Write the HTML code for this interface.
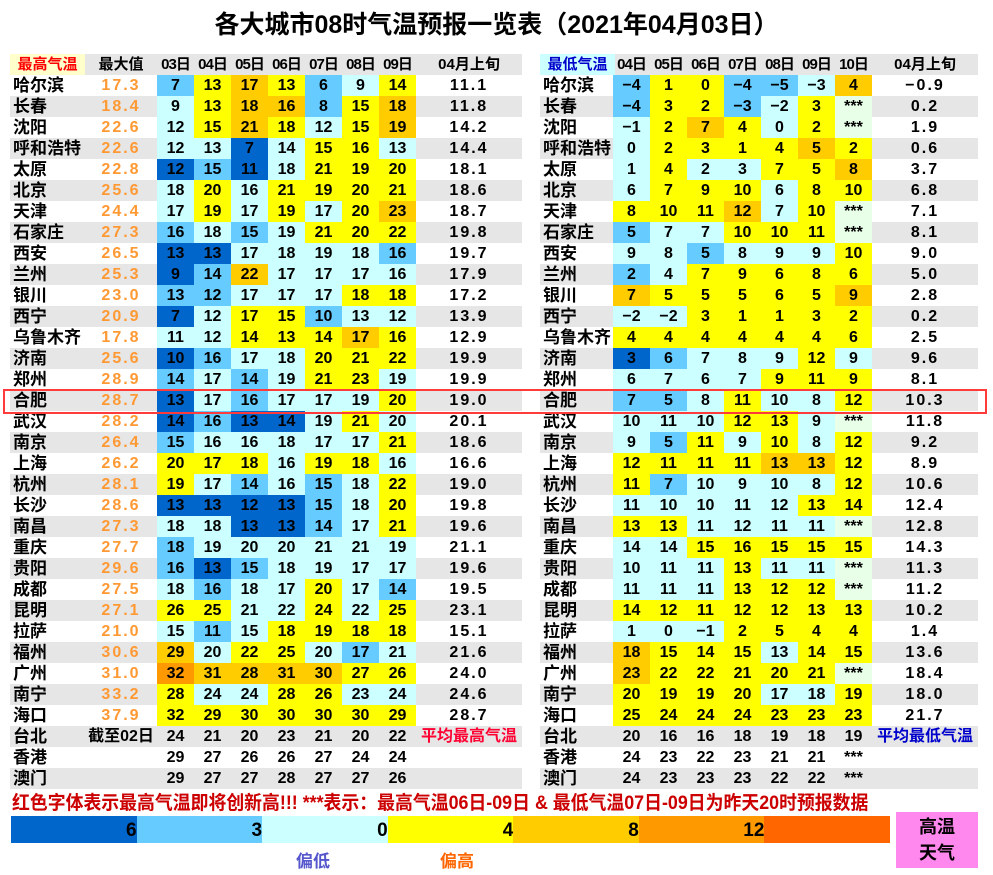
<!DOCTYPE html>
<html><head><meta charset="utf-8">
<style>
body{margin:0;background:#fff;width:993px;height:875px;position:relative;overflow:hidden;font-family:"Liberation Sans","Noto Sans CJK SC",sans-serif;}
.c{position:absolute;height:21px;line-height:21px;text-align:center;font-size:16px;font-weight:bold;color:#000;white-space:nowrap;}
.nm{text-align:left;padding-left:3px;box-sizing:border-box;font-size:17px;}
.mx{color:#ff9933;letter-spacing:2px;}
.av{letter-spacing:2px;}
.hd{font-size:15px;}
#title{position:absolute;left:0;width:993px;top:5px;text-align:center;font-size:25px;font-weight:bold;}
</style></head><body>
<div id="title">各大城市08时气温预报一览表（2021年04月03日）</div>
<div id="tbl"></div>
<div style="position:absolute;left:3px;top:389px;width:980px;height:21px;border:2px solid #ff3b3b;"></div>
<div style="position:absolute;left:12px;top:788px;font-size:19px;color:#cc0000;font-weight:bold;transform:scaleX(0.94);transform-origin:left;white-space:nowrap;">红色字体表示最高气温即将创新高!!! ***表示：最高气温06日-09日 &amp; 最低气温07日-09日为昨天20时预报数据</div>
<div id="legend"></div>
<div style="position:absolute;left:296px;top:847px;font-size:17px;font-weight:bold;color:#5555cc;">偏低</div>
<div style="position:absolute;left:440px;top:847px;font-size:17px;font-weight:bold;color:#ff6600;">偏高</div>
<div style="position:absolute;left:896px;top:812px;width:82px;height:56px;background:#ff88ee;font-size:18px;font-weight:bold;text-align:center;line-height:26px;padding-top:2px;box-sizing:border-box;">高温<br>天气</div>
<script>
const cities=["哈尔滨","长春","沈阳","呼和浩特","太原","北京","天津","石家庄","西安","兰州","银川","西宁","乌鲁木齐","济南","郑州","合肥","武汉","南京","上海","杭州","长沙","南昌","重庆","贵阳","成都","昆明","拉萨","福州","广州","南宁","海口","台北","香港","澳门"];
const maxRecord=["17.3","18.4","22.6","22.6","22.8","25.6","24.4","27.3","26.5","25.3","23.0","20.9","17.8","25.6","28.9","28.7","28.2","26.4","26.2","28.1","28.6","27.3","27.7","29.6","27.5","27.1","21.0","30.6","31.0","33.2","37.9","截至02日","",""];
const highDays=["03日","04日","05日","06日","07日","08日","09日"];
const lowDays=["04日","05日","06日","07日","08日","09日","10日"];
const highVals=[
"7 13 17 13 6 9 14","9 13 18 16 8 15 18","12 15 21 18 12 15 19","12 13 7 14 15 16 13","12 15 11 18 21 19 20","18 20 16 21 19 20 21","17 19 17 19 17 20 23","16 18 15 19 21 20 22","13 13 17 18 19 18 16","9 14 22 17 17 17 16","13 12 17 17 17 18 18","7 12 17 15 10 13 12","11 12 14 13 14 17 16","10 16 17 18 20 21 22","14 17 14 19 21 23 19","13 17 16 17 17 19 20","14 16 13 14 19 21 20","15 16 16 18 17 17 21","20 17 18 16 19 18 16","19 17 14 16 15 18 22","13 13 12 13 15 18 20","18 18 13 13 14 17 21","18 19 20 20 21 21 19","16 13 15 18 19 17 17","18 16 18 17 20 17 14","26 25 21 22 24 22 25","15 11 15 18 19 18 18","29 20 22 25 20 17 21","32 31 28 31 30 27 26","28 24 24 28 26 23 24","32 29 30 30 30 30 29","24 21 20 23 21 20 22","29 27 26 26 27 24 24","29 27 27 28 27 27 26"];
const highLevels=["LYGYLCY","CYGGLYG","CYGYCYG","CCDCYYC","DLDCYYY","CYCYYYY","CYCYCYG","LCLCYYY","DDCCCCL","DLGCCCC","LLCCCYY","DCYYLCC","CCYYYGY","DLCCYYY","LCLCYYC","DCLCCCY","DLDDCYC","LCCCCCY","YYYCYYC","YCLCLCY","DDDDLCY","CCDDLCY","LCCCCCC","LDLCCCC","CLCCYCL","YYCCYCY","CLCYYYY","GCYYCLC","OGGGGYY","YCCYYCC","YYYYYYY","NNNNNNN","NNNNNNN","NNNNNNN"];
const highAvg=["11.1","11.8","14.2","14.4","18.1","18.6","18.7","19.8","19.7","17.9","17.2","13.9","12.9","19.9","19.9","19.0","20.1","18.6","16.6","19.0","19.8","19.6","21.1","19.6","19.5","23.1","15.1","21.6","24.0","24.6","28.7","平均最高气温","",""];
const lowVals=[
"−4 1 0 −4 −5 −3 4","−4 3 2 −3 −2 3 ***","−1 2 7 4 0 2 ***","0 2 3 1 4 5 2","1 4 2 3 7 5 8","6 7 9 10 6 8 10","8 10 11 12 7 10 ***","5 7 7 10 10 11 ***","9 8 5 8 9 9 10","2 4 7 9 6 8 6","7 5 5 5 6 5 9","−2 −2 3 1 1 3 2","4 4 4 4 4 4 6","3 6 7 8 9 12 9","6 7 6 7 9 11 9","7 5 8 11 10 8 12","10 11 10 12 13 9 ***","9 5 11 9 10 8 12","12 11 11 11 13 13 12","11 7 10 9 10 8 12","11 10 10 11 12 13 14","13 13 11 12 11 11 ***","14 14 15 16 15 15 15","10 11 11 13 11 11 ***","11 11 11 13 12 12 ***","14 12 11 12 12 13 13","1 0 −1 2 5 4 4","18 15 14 15 13 14 15","23 22 22 21 20 21 ***","20 19 19 20 17 18 19","25 24 24 24 23 23 23","20 16 16 18 19 18 19","24 23 22 23 21 21 ***","24 23 23 23 22 22 ***"];
const lowLevels=["LYYLLCG","LYYLCYS","CYGYCYS","CYYYYGY","CYCCYYG","CYYYCYY","YYYGCYS","LCCYYYS","CCLCCCY","LCYYYYY","GYYYYYG","CCYYYYY","YYYYYYY","DLCCCYC","CCCCYYY","LLCYCCY","CCCYYCS","CLYCYCY","YYYYGGY","YLCCCCY","CCCCCYY","YYCCCCS","CCYYYYY","CCCYCCS","CCCYYYS","YYYYYYY","CCCYYYY","GYYYCYY","GYYYYYS","YYYYCCY","YYYYYYY","NNNNNNN","NNNNNNN","NNNNNNN"];
const lowAvg=["−0.9","0.2","1.9","0.6","3.7","6.8","7.1","8.1","9.0","5.0","2.8","0.2","2.5","9.6","8.1","10.3","11.8","9.2","8.9","10.6","12.4","12.8","14.3","11.3","11.2","10.2","1.4","13.6","18.4","18.0","21.7","平均最低气温","",""];
const legendTicks=["6","3","0","4","8","12",""];
const legendColors=["#0066cc","#66ccff","#ccffff","#ffff00","#ffcc00","#ff9900","#ff6600"];

const COL={D:"#0066cc",L:"#66ccff",C:"#ccffff",Y:"#ffff00",G:"#ffcc00",O:"#ff9900",S:"#e8ffe8"};
const T0=75,RH=21,CW=37;
const rowY=i=>T0+i*RH;
const tbl=document.getElementById('tbl');
function cell(x,y,w,txt,cls,bg,name,color){
  const d=document.createElement('div');
  d.className='c '+(cls||'');
  d.style.left=x+'px';d.style.top=y+'px';d.style.width=w+'px';
  if(bg)d.style.background=bg;
  if(color)d.style.color=color;
  d.textContent=txt;
  
  
  tbl.appendChild(d);return d;
}
function table(side){
  const left=side==='high';
  const x0=left?10:540, dayX=left?157:613, endX=left?522:978;
  const days=left?highDays:lowDays, vals=left?highVals:lowVals, lv=left?highLevels:lowLevels, avg=left?highAvg:lowAvg;
  cell(x0,54,endX-x0,'','', '#e6e6e6',side+'-header-band');
  cell(x0,54,75,left?'最高气温':'最低气温','hd',left?'#ffffcc':'#ccffff',side+'-header-title',left?'#ff0000':'#0000cc');
  if(left)cell(85,54,72,'最大值','hd',null,'max-record-header');
  days.forEach((d,j)=>{const h=cell(dayX+j*CW,54,CW,d,'hd',null,side+'-day-header');h.style.letterSpacing='-1px';});
  cell(dayX+7*CW,54,endX-dayX-7*CW,'04月上旬','hd',null,side+'-avg-header');
  cities.forEach((c,i)=>{
    const y=rowY(i);
    if(i%2===1)cell(x0,y,endX-x0,'','', '#e6e6e6',side+'-row-band');
    cell(x0,y,75,c,'nm',null,side+'-city-name');
    if(left){
      const m=maxRecord[i];
      if(m)cell(85,y,72,m,i<31?'mx':'',null,'max-record-value',i<31?null:'#000');
    }
    const v=vals[i].split(' ');
    v.forEach((t,j)=>{
      const code=lv[i][j];
      cell(dayX+j*CW,y,CW,t,'',COL[code]||null,side+'-temp-cell');
    });
    const a=avg[i];
    if(a){const isLbl=i===31;
      cell(dayX+7*CW,y,endX-dayX-7*CW,a,isLbl?'':'av',null,side+'-avg-value',isLbl?(left?'#ff0033':'#0000cc'):null);}
  });
}
table('high');table('low');
const lg=document.getElementById('legend');
const LX0=11,LX1=890,segW=(LX1-LX0)/legendColors.length;
legendColors.forEach((col,k)=>{
  const s=document.createElement('div');
  s.style.cssText='position:absolute;top:816px;height:27px;line-height:29px;text-align:right;font-size:19px;font-weight:bold;box-sizing:border-box;';
  s.style.left=(LX0+k*segW)+'px';s.style.width=segW+'px';s.style.background=col;
  s.textContent=legendTicks[k];
  
  
  lg.appendChild(s);
});
</script>
</body></html>
